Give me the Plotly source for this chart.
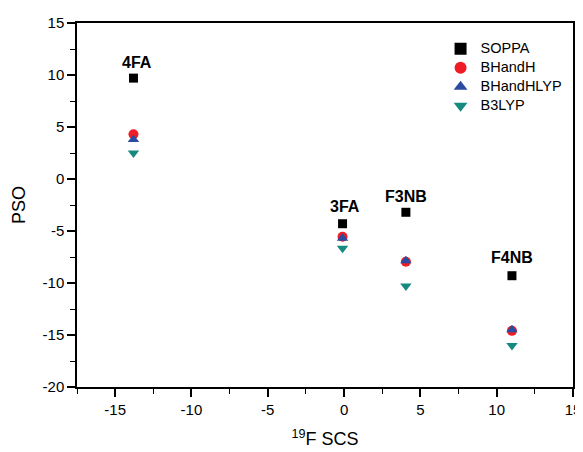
import plotly.graph_objects as go

compounds = ["4FA", "3FA", "F3NB", "F4NB"]
scs = [-13.8, -0.1, 4.05, 11.0]
soppa = [9.7, -4.3, -3.2, -9.3]
bhandh = [4.3, -5.55, -7.95, -14.6]
bhandhlyp = [3.8, -5.7, -7.85, -14.5]
b3lyp = [2.5, -6.65, -10.3, -16.0]
label_x = [-13.6, 0.05, 4.05, 11.0]
label_y = [11.25, -2.6, -1.65, -7.5]

x_ticks = [-15, -10, -5, 0, 5, 10, 15]
x_ticklabels = ["-15", "-10", "-5", "0", "5", "10", "15"]
y_ticks = [-20, -15, -10, -5, 0, 5, 10, 15]
y_ticklabels = ["-20", "-15", "-10", "-5", "0", "5", "10", "15"]
minor_ticks = [-17.5, -12.5, -7.5, -2.5, 2.5, 7.5, 12.5]

series = [
    ("SOPPA", soppa, "square", "#000000", 9),
    ("BHandH", bhandh, "circle", "#ee1c24", 10),
    ("BHandHLYP", bhandhlyp, "triangle-up", "#2b4ba0", 10),
    ("B3LYP", b3lyp, "triangle-down", "#178a80", 10),
]

fig = go.Figure()
for name, vals, sym, col, sz in series:
    fig.add_trace(go.Scatter(
        x=scs, y=vals, mode="markers",
        name='<span style="font-size:14.5px">%s</span>' % name,
        marker=dict(symbol=sym, color=col, size=sz, line=dict(width=0)),
    ))

for c, x, y in zip(compounds, label_x, label_y):
    fig.add_annotation(x=x, y=y, text="<b>%s</b>" % c, showarrow=False,
                       font=dict(size=16, color="#000000", family="Liberation Sans, Arial"),
                       yanchor="middle")

axis_common = dict(
    showgrid=False, zeroline=False, showline=True, linecolor="#000000", linewidth=1.5,
    mirror=True, ticks="outside", ticklen=8, tickwidth=1.5, tickcolor="#000000",
    tickfont=dict(size=15, color="#000000", family="Liberation Sans, Arial"),
    minor=dict(ticks="outside", ticklen=5, tickwidth=1.2, tickcolor="#000000",
               tickmode="array", tickvals=minor_ticks),
    automargin=False,
)

# The page body has an 8px default margin, so the figure is sized to fit the window.
fig.update_layout(
    width=575, height=444,
    margin=dict(l=69, r=10, t=15, b=65, autoexpand=False),
    plot_bgcolor="white", paper_bgcolor="white",
    font=dict(family="Liberation Sans, Arial", color="#000000"),
    xaxis=dict(range=[-17.5, 15], tickmode="array", tickvals=x_ticks, ticktext=x_ticklabels,
               title=dict(text="<sup>19</sup>F SCS", font=dict(size=18), standoff=16),
               **axis_common),
    yaxis=dict(range=[-20, 15], tickmode="array", tickvals=y_ticks, ticktext=y_ticklabels,
               title=dict(text="PSO", font=dict(size=18), standoff=12),
               **axis_common),
    legend=dict(x=0.733, y=0.969, xanchor="left", yanchor="top",
                bgcolor="rgba(0,0,0,0)", font=dict(size=12),
                itemsizing="constant", tracegroupgap=0),
    showlegend=True,
)

fig.write_html("out.html")
